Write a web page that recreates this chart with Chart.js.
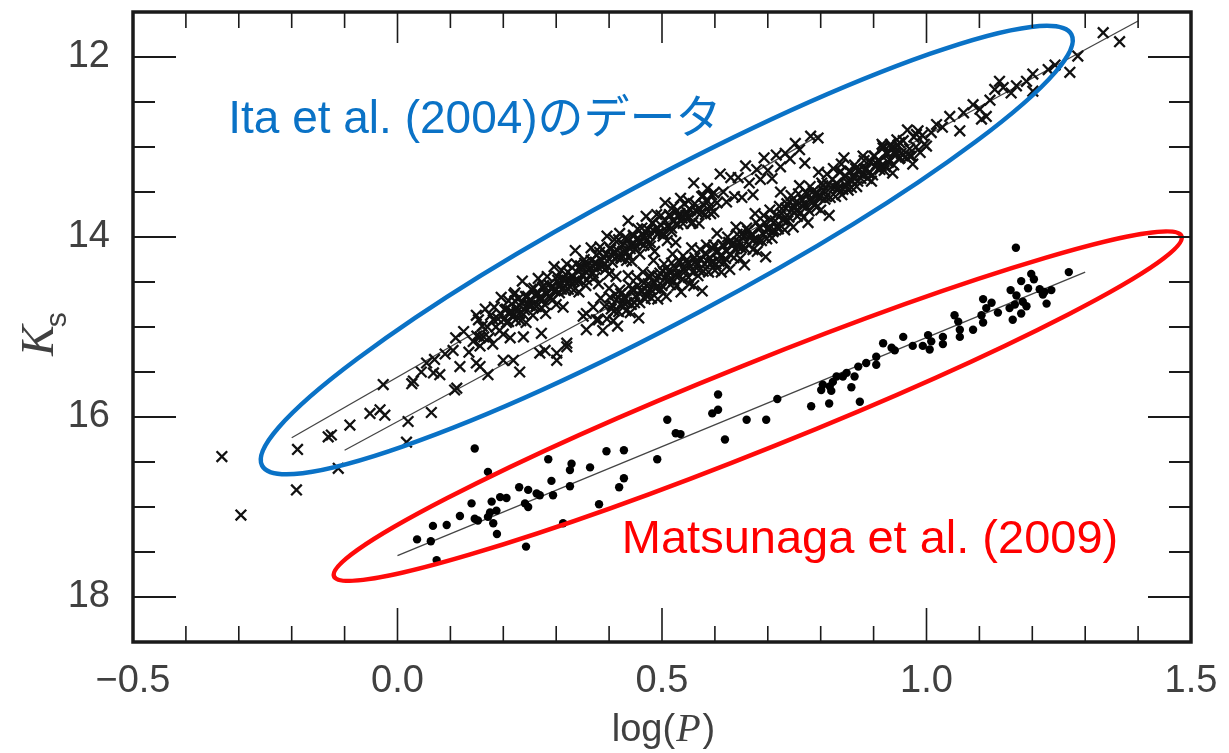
<!DOCTYPE html>
<html>
<head>
<meta charset="utf-8">
<script src="https://cdn.jsdelivr.net/npm/chart.js@4.4.1/dist/chart.umd.min.js"></script>
<style>
  html, body { margin: 0; padding: 0; background: #fff; }
  canvas { display: block; }
</style>
</head>
<body>
<canvas id="plot" width="1229" height="753"></canvas>
<script>
// ticks
const xTicks = [-0.5, 0.0, 0.5, 1.0, 1.5];
const xLabels = ['\u22120.5', '0.0', '0.5', '1.0', '1.5'];
const xMinor = [-0.4, -0.3, -0.2, -0.1, 0.1, 0.2, 0.3, 0.4, 0.6, 0.7, 0.8, 0.9, 1.1, 1.2, 1.3, 1.4];
const yTicks = [12, 14, 16, 18];
const yLabels = ['12', '14', '16', '18'];
const yMinor = [12.5, 13, 13.5, 14.5, 15, 15.5, 16.5, 17, 17.5];

// Ita et al. (2004) - first overtone sequence (crosses)
const itaOvertone = [
  [-0.189,16.36],[-0.131,16.22],[-0.125,16.20],[-0.090,16.09],[-0.052,15.96],[-0.033,15.92],[-0.024,15.98],[-0.027,15.64],
  [0.027,15.63],[0.030,15.60],[0.045,15.50],[0.055,15.40],[0.068,15.51],[0.070,15.36],[0.080,15.53],[0.090,15.30],
  [0.105,15.26],[0.110,15.12],[0.118,15.44],[0.125,15.05],[0.135,15.28],[0.143,15.16],[0.149,14.87],[0.156,15.11],
  [0.181,14.92],[0.194,14.85],[0.222,14.62],
  [0.150,15.10],[0.153,14.92],[0.156,15.21],[0.160,14.99],[0.163,15.11],[0.166,14.80],[0.170,15.00],[0.173,15.12],[0.176,14.87],[0.180,15.19],
  [0.183,14.78],[0.186,15.00],[0.190,14.91],[0.193,15.04],[0.196,14.67],[0.200,15.08],[0.203,14.81],[0.206,14.95],[0.210,14.71],[0.213,15.12],
  [0.216,14.83],[0.220,14.64],[0.223,14.92],[0.226,14.83],[0.230,14.68],[0.233,14.93],[0.236,14.49],[0.240,14.81],[0.243,14.95],[0.246,14.66],
  [0.250,14.76],[0.253,14.58],[0.256,14.87],[0.260,14.65],[0.263,14.77],[0.266,14.46],[0.270,14.67],[0.273,14.79],[0.276,14.54],[0.280,14.85],
  [0.283,14.44],[0.286,14.66],[0.290,14.57],[0.293,14.70],[0.296,14.33],[0.300,14.75],[0.303,14.48],[0.306,14.62],[0.310,14.37],[0.313,14.78],
  [0.316,14.49],[0.320,14.30],[0.323,14.58],[0.326,14.50],[0.330,14.34],[0.333,14.59],[0.336,14.15],[0.340,14.47],[0.343,14.61],[0.346,14.32],
  [0.350,14.43],[0.353,14.25],[0.356,14.54],[0.360,14.31],[0.363,14.43],[0.366,14.12],[0.370,14.33],[0.373,14.45],[0.376,14.20],[0.380,14.52],
  [0.383,14.11],[0.386,14.33],[0.390,14.23],[0.393,14.36],[0.396,13.99],[0.400,14.41],[0.403,14.14],[0.406,14.28],[0.410,14.03],[0.413,14.44],
  [0.416,14.15],[0.420,13.96],[0.423,14.24],[0.426,14.16],[0.430,14.01],[0.433,14.26],[0.436,13.82],[0.440,14.13],[0.443,14.27],[0.446,13.98],
  [0.450,14.09],[0.454,13.91],[0.458,14.19],[0.462,13.97],[0.466,14.09],[0.470,13.77],[0.474,13.98],[0.478,14.10],[0.482,13.84],[0.486,14.16],
  [0.490,13.75],[0.494,13.96],[0.498,13.87],[0.502,13.99],[0.506,13.62],[0.510,14.04],[0.514,13.76],[0.518,13.90],[0.522,13.66],[0.526,14.06],
  [0.530,13.77],[0.535,13.57],[0.540,13.85],[0.545,13.76],[0.550,13.60],[0.555,13.85],[0.560,13.40],[0.565,13.71],[0.570,13.85],[0.575,13.55],
  [0.580,13.65],[0.586,13.46],[0.592,13.74],[0.598,13.51],[0.604,13.62],[0.610,13.30],[0.616,13.50],[0.622,13.61],
  [0.630,13.34],[0.637,13.55],[0.644,13.34],[0.651,13.56],[0.658,13.21],[0.665,13.40],[0.672,13.53],[0.679,13.25],[0.686,13.36],[0.693,13.12],
  [0.700,13.26],[0.708,13.35],[0.716,13.09],[0.724,13.22],[0.733,13.07],[0.742,13.13],[0.752,12.96],[0.760,13.03],[0.770,13.18],[0.781,12.88],
  [0.795,12.90],[0.839,13.19]
];
// dense core of the first overtone band
const itaOvertoneCore = [
  [0.202,14.91],[0.206,14.80],[0.210,14.94],[0.214,14.82],[0.218,14.87],[0.222,14.71],[0.226,14.79],[0.230,14.85],[0.234,14.73],[0.238,14.86],
  [0.242,14.66],[0.246,14.75],[0.250,14.70],[0.254,14.76],[0.258,14.57],[0.262,14.77],[0.266,14.63],[0.270,14.69],[0.274,14.56],[0.278,14.75],
  [0.282,14.64],[0.286,14.53],[0.290,14.67],[0.294,14.55],[0.298,14.60],[0.302,14.44],[0.306,14.53],[0.310,14.58],[0.314,14.46],[0.318,14.59],
  [0.322,14.39],[0.326,14.48],[0.330,14.43],[0.334,14.49],[0.338,14.30],[0.342,14.50],[0.346,14.36],[0.350,14.42],[0.354,14.29],[0.358,14.48],
  [0.362,14.37],[0.366,14.26],[0.370,14.40],[0.374,14.28],[0.378,14.33],[0.382,14.17],[0.386,14.26],[0.390,14.31],[0.394,14.19],[0.398,14.33],
  [0.402,14.12],[0.406,14.21],[0.410,14.16],[0.414,14.22],[0.418,14.03],[0.422,14.23],[0.426,14.09],[0.430,14.15],[0.434,14.02],[0.438,14.21],
  [0.442,14.10],[0.446,13.99],[0.450,14.13],[0.454,14.01],[0.458,14.06],[0.462,13.90],[0.466,13.99],[0.470,14.04],[0.474,13.92],[0.478,14.06],
  [0.482,13.85],[0.486,13.94],[0.490,13.90],[0.494,13.95],[0.498,13.76],[0.502,13.96],[0.506,13.82],[0.510,13.88],[0.514,13.75],[0.518,13.94],
  [0.522,13.83],[0.526,13.72],[0.530,13.86],[0.534,13.74],[0.538,13.79],[0.542,13.63],[0.546,13.72],[0.550,13.77],[0.554,13.70],[0.558,13.84],
  [0.562,13.63],[0.566,13.72],[0.570,13.68],[0.574,13.73],[0.578,13.54],[0.582,13.75],[0.586,13.60],[0.590,13.66],[0.594,13.53],[0.598,13.72]
];

// Ita et al. (2004) - fundamental sequence (crosses)
const itaFundamental = [
  [-0.332,16.44],[-0.296,17.09],[-0.191,16.81],[-0.112,16.57],
  [0.017,16.28],[0.020,16.05],[0.064,15.95],[0.108,15.70],[0.112,15.68],[0.149,15.40],[0.156,15.44],[0.171,15.53],
  [0.200,15.37],[0.219,15.37],[0.231,15.50],[0.238,15.11],[0.269,15.29],[0.272,15.07],[0.279,15.26],[0.301,15.37],
  [0.301,15.29],[0.320,15.18],[0.320,15.22],[0.351,14.88],[0.357,15.03],[0.357,14.85],[0.370,14.78],[0.376,14.92],
  [0.380,14.92],[0.384,14.68],[0.388,15.04],[0.392,14.77],[0.396,14.91],[0.400,14.57],[0.404,14.80],[0.408,14.93],[0.412,14.64],[0.416,14.99],
  [0.420,14.59],[0.424,14.76],[0.428,14.67],[0.432,14.82],[0.436,14.43],[0.440,14.84],[0.444,14.57],[0.448,14.73],[0.452,14.45],[0.456,14.90],
  [0.460,14.60],[0.464,14.39],[0.468,14.69],[0.472,14.60],[0.476,14.43],[0.480,14.68],[0.484,14.26],[0.488,14.57],[0.492,14.69],[0.496,14.40],
  [0.500,14.54],[0.504,14.30],[0.508,14.66],[0.512,14.38],[0.516,14.53],[0.520,14.19],[0.524,14.42],[0.528,14.54],[0.532,14.26],[0.536,14.61],
  [0.540,14.21],[0.544,14.38],[0.548,14.29],[0.552,14.52],[0.556,14.12],[0.560,14.54],[0.564,14.27],[0.568,14.43],[0.572,14.14],[0.576,14.60],
  [0.580,14.30],[0.584,14.09],[0.588,14.39],[0.592,14.30],[0.596,14.13],[0.600,14.37],[0.604,13.96],[0.608,14.27],[0.612,14.39],[0.616,14.09],
  [0.620,14.24],[0.624,14.00],[0.628,14.36],[0.632,14.08],[0.636,14.23],[0.640,13.89],[0.644,14.11],[0.648,14.24],[0.652,13.96],[0.656,14.31],
  [0.660,13.90],[0.664,14.08],[0.668,13.99],[0.672,14.14],[0.676,13.74],[0.680,14.16],[0.684,13.89],[0.688,14.04],[0.692,13.76],[0.696,14.22],
  [0.700,13.92],[0.704,13.70],[0.708,14.01],[0.712,13.92],[0.716,13.75],[0.720,13.91],[0.724,13.50],[0.728,13.81],[0.732,13.92],[0.736,13.63],
  [0.740,13.78],[0.744,13.54],[0.748,13.89],[0.752,13.62],[0.756,13.77],[0.760,13.43],[0.764,13.65],[0.768,13.78],[0.772,13.50],[0.776,13.84],
  [0.780,13.44],[0.784,13.62],[0.788,13.53],[0.792,13.67],[0.796,13.28],[0.800,13.70],[0.804,13.43],[0.808,13.58],[0.812,13.30],[0.816,13.76],
  [0.820,13.45],[0.824,13.24],[0.828,13.55],[0.832,13.46],[0.836,13.28],[0.840,13.53],[0.844,13.12],[0.848,13.43],[0.852,13.48],[0.856,13.27],
  [0.860,13.38],[0.864,13.20],[0.868,13.44],[0.872,13.25],[0.876,13.35],[0.880,13.10],[0.884,13.26],[0.888,13.35],[0.892,13.15],[0.896,13.38],
  [0.900,13.10],[0.904,13.22],[0.908,13.15],[0.912,13.25],[0.916,12.97],[0.920,13.26],[0.924,13.06],[0.928,13.17],[0.932,12.97],[0.936,13.29],
  [0.940,13.07],[0.944,12.92],[0.948,13.13],[0.952,13.07],[0.956,12.93],[0.960,13.11],[0.964,12.81],[0.968,13.02],[0.972,13.10],[0.976,12.89],
  [0.980,13.00],[0.984,12.82],[0.988,13.06],[0.992,12.87],[0.996,12.97],
  [0.918,12.99],[0.940,13.05],[0.949,12.95],[0.968,13.10],[0.974,13.19],[0.981,12.86],
  [1.000,12.99],[1.009,12.84],[1.019,12.75],[1.030,12.78],[1.044,12.66],[1.063,12.82],[1.070,12.62],[1.088,12.53],[1.101,12.58],[1.104,12.69],
  [1.113,12.66],[1.120,12.48],[1.129,12.36],[1.138,12.27],[1.145,12.34],[1.160,12.40],[1.170,12.32],[1.189,12.27],[1.201,12.19],[1.201,12.38],
  [1.230,12.14],[1.243,12.09],[1.271,12.17],[1.286,11.99],[1.334,11.73],[1.365,11.83]
];
// dense core of the fundamental band
const itaFundamentalCore = [
  [0.402,14.67],[0.406,14.76],[0.410,14.82],[0.414,14.70],[0.418,14.83],[0.422,14.63],[0.426,14.72],[0.430,14.68],[0.434,14.73],[0.438,14.54],
  [0.442,14.75],[0.446,14.60],[0.450,14.66],[0.454,14.54],[0.458,14.73],[0.462,14.61],[0.466,14.51],[0.470,14.65],[0.474,14.52],[0.478,14.58],
  [0.482,14.42],[0.486,14.51],[0.490,14.56],[0.494,14.44],[0.498,14.58],[0.502,14.38],[0.506,14.46],[0.510,14.42],[0.514,14.48],[0.518,14.29],
  [0.522,14.49],[0.526,14.35],[0.530,14.41],[0.534,14.28],[0.538,14.47],[0.542,14.36],[0.546,14.26],[0.550,14.45],[0.554,14.33],[0.558,14.39],
  [0.562,14.23],[0.566,14.31],[0.570,14.37],[0.574,14.25],[0.578,14.38],[0.582,14.18],[0.586,14.27],[0.590,14.23],[0.594,14.28],[0.598,14.09],
  [0.602,14.30],[0.606,14.16],[0.610,14.21],[0.614,14.09],[0.618,14.28],[0.622,14.16],[0.626,14.06],[0.630,14.20],[0.634,14.08],[0.638,14.13],
  [0.642,13.97],[0.646,14.06],[0.650,14.12],[0.654,13.99],[0.658,14.13],[0.662,13.93],[0.666,14.01],[0.670,13.97],[0.674,14.03],[0.678,13.84],
  [0.682,14.04],[0.686,13.90],[0.690,13.96],[0.694,13.84],[0.698,14.02],[0.702,13.91],[0.706,13.81],[0.710,13.94],[0.714,13.82],[0.718,13.88],
  [0.722,13.66],[0.726,13.74],[0.730,13.80],[0.734,13.68],[0.738,13.82],[0.742,13.61],[0.746,13.70],[0.750,13.66],[0.754,13.71],[0.758,13.52],
  [0.762,13.73],[0.766,13.59],[0.770,13.64],[0.774,13.52],[0.778,13.71],[0.782,13.60],[0.786,13.49],[0.790,13.63],[0.794,13.51],[0.798,13.56],
  [0.802,13.40],[0.806,13.49],[0.810,13.55],[0.814,13.42],[0.818,13.56],[0.822,13.36],[0.826,13.45],[0.830,13.40],[0.834,13.46],[0.838,13.27],
  [0.842,13.47],[0.846,13.33],[0.850,13.39],[0.854,13.27],[0.858,13.45],[0.862,13.34],[0.866,13.24],[0.870,13.38],[0.874,13.25],[0.878,13.31],
  [0.882,13.15],[0.886,13.24],[0.890,13.29],[0.894,13.17],[0.898,13.31],[0.902,13.10],[0.906,13.19],[0.910,13.15],[0.914,13.21],[0.918,13.01],
  [0.922,13.22],[0.926,13.08],[0.930,13.14],[0.934,13.01],[0.938,13.20],[0.942,13.09],[0.946,12.98],[0.950,13.12]
];

// Matsunaga et al. (2009) (filled dots)
const matsunaga = [
  [0.146,16.35],[0.171,16.61],[0.285,16.47],[0.329,16.52],[0.326,16.59],[0.364,16.56],[0.395,16.38],[0.428,16.37],[0.491,16.47],[0.510,16.03],
  [0.526,16.18],[0.535,16.19],[0.606,15.75],[0.595,15.96],[0.606,15.92],[0.619,16.25],[0.660,16.03],[0.697,16.03],[0.291,16.71],[0.326,16.77],
  [0.294,16.87],[0.428,16.68],[0.419,16.78],[0.381,16.97],[0.313,17.18],[0.230,16.78],[0.247,16.81],[0.263,16.85],[0.269,16.87],[0.241,16.96],
  [0.247,17.00],[0.194,16.89],[0.206,16.90],[0.178,16.94],[0.187,17.04],[0.175,17.06],[0.171,17.11],[0.181,17.18],[0.188,17.30],[0.140,16.96],
  [0.146,17.13],[0.152,17.15],[0.118,17.10],[0.093,17.20],[0.067,17.21],[0.037,17.36],[0.063,17.38],[0.074,17.59],[0.243,17.44],
  [1.169,14.12],[1.269,14.39],[1.198,14.41],[1.203,14.47],[1.179,14.49],[1.159,14.59],[1.192,14.57],[1.214,14.58],[1.223,14.61],[1.236,14.59],
  [1.220,14.64],[1.227,14.74],[1.170,14.65],[1.182,14.72],[1.189,14.77],[1.167,14.75],[1.157,14.79],[1.179,14.85],[1.163,14.92],[1.135,14.84],
  [1.123,14.73],[1.107,14.69],[1.113,14.79],[1.104,14.87],[1.107,14.95],[1.088,15.03],[1.053,14.87],[1.060,14.94],[1.063,15.03],[1.063,15.11],
  [1.031,15.11],[1.031,15.19],[1.003,15.09],[1.009,15.16],[1.006,15.25],[0.993,15.21],[0.974,15.21],[0.956,15.11],[0.940,15.26],[0.918,15.18],
  [0.934,15.23],[0.905,15.33],[0.905,15.42],[0.886,15.40],[0.871,15.44],[0.864,15.55],[0.849,15.51],[0.842,15.55],[0.830,15.55],[0.823,15.61],
  [0.817,15.66],[0.804,15.64],[0.801,15.70],[0.858,15.67],[0.820,15.71],[0.816,15.85],[0.782,15.88],[0.874,15.83],[0.718,15.80]
];

// period-luminosity fits (end points)
const fitOvertone = [[-0.2, 16.23], [0.8, 12.86]];
const fitFundamental = [[-0.1, 16.37], [1.4, 11.6]];
const fitMatsunaga = [[0.0, 17.54], [1.3, 14.39]];

const toXY = arr => arr.map(p => ({ x: p[0], y: p[1] }));

// highlight ellipses: major axis end points in data units, half width in px
const ellipses = [
  { from: [-0.256, 16.54], to: [1.274, 11.75], half: 70, color: '#0a72c6' },
  { from: [-0.120, 17.77], to: [1.482, 13.99], half: 43, color: '#ff0a0a' }
];
const notes = [
  { text: 'Ita et al. (2004)のデータ', at: [-0.320, 12.84], color: '#0a72c6', size: 46 },
  { text: 'Matsunaga et al. (2009)', at: [0.424, 17.51], color: '#ff0000', size: 47 }
];

const SANS = '"Liberation Sans", Arial, "Noto Sans CJK JP", sans-serif';

const decor = {
  id: 'decor',
  afterDatasetsDraw(chart) {
    const ctx = chart.ctx, sx = chart.scales.x, sy = chart.scales.y;
    ctx.save();
    ellipses.forEach(e => {
      const x1 = sx.getPixelForValue(e.from[0]), y1 = sy.getPixelForValue(e.from[1]);
      const x2 = sx.getPixelForValue(e.to[0]), y2 = sy.getPixelForValue(e.to[1]);
      const a = Math.hypot(x2 - x1, y2 - y1) / 2;
      ctx.beginPath();
      ctx.ellipse((x1 + x2) / 2, (y1 + y2) / 2, a, e.half, Math.atan2(y2 - y1, x2 - x1), 0, Math.PI * 2);
      ctx.strokeStyle = e.color;
      ctx.lineWidth = 4.5;
      ctx.stroke();
    });
    notes.forEach(n => {
      ctx.font = n.size + 'px ' + SANS;
      ctx.fillStyle = n.color;
      ctx.textAlign = 'left';
      ctx.textBaseline = 'alphabetic';
      ctx.fillText(n.text, sx.getPixelForValue(n.at[0]), sy.getPixelForValue(n.at[1]));
    });
    ctx.restore();
  },
  afterDraw(chart) {
    const ctx = chart.ctx, ca = chart.chartArea, sx = chart.scales.x, sy = chart.scales.y;
    ctx.save();
    ctx.strokeStyle = '#1a1a1a';
    // inward ticks
    ctx.lineWidth = 2;
    const hTick = (v, len) => {
      const p = sy.getPixelForValue(v);
      ctx.beginPath();
      ctx.moveTo(ca.left, p); ctx.lineTo(ca.left + len, p);
      ctx.moveTo(ca.right, p); ctx.lineTo(ca.right - len, p);
      ctx.stroke();
    };
    yTicks.forEach(v => hTick(v, 43));
    yMinor.forEach(v => hTick(v, 22));
    ctx.lineWidth = 1.6;
    const vTick = (v, lenB, lenT) => {
      const p = sx.getPixelForValue(v);
      ctx.beginPath();
      ctx.moveTo(p, ca.bottom); ctx.lineTo(p, ca.bottom - lenB);
      ctx.moveTo(p, ca.top); ctx.lineTo(p, ca.top + lenT);
      ctx.stroke();
    };
    xTicks.slice(1, -1).forEach(v => vTick(v, 34, 31));
    xMinor.forEach(v => vTick(v, 16, 16));
    // frame
    ctx.lineWidth = 3.5;
    ctx.strokeRect(ca.left, ca.top, ca.right - ca.left, ca.bottom - ca.top);

    // x title: log(P)
    ctx.fillStyle = '#404040';
    ctx.textBaseline = 'alphabetic';
    ctx.textAlign = 'left';
    const fN = '38px ' + SANS, fI = 'italic 40px "Liberation Serif", "Times New Roman", serif';
    ctx.font = fN; const w1 = ctx.measureText('log(').width, w3 = ctx.measureText(')').width;
    ctx.font = fI; const w2 = ctx.measureText('P').width;
    const x0 = (ca.left + ca.right) / 2 - (w1 + w2 + w3) / 2;
    const base = 741;
    ctx.font = fN; ctx.fillText('log(', x0, base);
    ctx.font = fI; ctx.fillText('P', x0 + w1 + 1, base);
    ctx.font = fN; ctx.fillText(')', x0 + w1 + w2 + 3, base);

    // y title: K_s
    ctx.translate(53, 356);
    ctx.rotate(-Math.PI / 2);
    ctx.font = 'italic 46px "Liberation Serif", "Times New Roman", serif';
    ctx.fillText('K', 0, 0);
    const wk = ctx.measureText('K').width;
    ctx.font = '30px ' + SANS;
    ctx.fillText('s', wk - 2, 13);
    ctx.restore();
  }
};

const crossStyle = { pointStyle: 'crossRot', pointRadius: 7.5, borderColor: '#111', borderWidth: 2.3, backgroundColor: '#111' };

const ctx = document.getElementById('plot');
new Chart(ctx, {
  type: 'scatter',
  data: {
    datasets: [
      Object.assign({ data: toXY(itaOvertone) }, crossStyle),
      Object.assign({ data: toXY(itaOvertoneCore) }, crossStyle),
      Object.assign({ data: toXY(itaFundamental) }, crossStyle),
      Object.assign({ data: toXY(itaFundamentalCore) }, crossStyle),
      { data: toXY(matsunaga), pointStyle: 'circle', pointRadius: 4.2, borderWidth: 0, backgroundColor: '#000' },
      { type: 'line', data: toXY(fitOvertone), borderColor: '#444', borderWidth: 1.3, pointRadius: 0 },
      { type: 'line', data: toXY(fitFundamental), borderColor: '#444', borderWidth: 1.3, pointRadius: 0 },
      { type: 'line', data: toXY(fitMatsunaga), borderColor: '#444', borderWidth: 1.3, pointRadius: 0 }
    ]
  },
  options: {
    responsive: false,
    devicePixelRatio: 1,
    animation: false,
    layout: { padding: { top: 12, right: 38, left: 0, bottom: 0 } },
    plugins: { legend: { display: false }, tooltip: { enabled: false } },
    scales: {
      x: {
        type: 'linear', min: -0.5, max: 1.5,
        grid: { display: false, drawTicks: false },
        border: { display: false },
        afterBuildTicks: s => { s.ticks = xTicks.map(v => ({ value: v })); },
        afterFit: s => { s.height = 111; s.paddingLeft = 0; s.paddingRight = 0; },
        ticks: {
          autoSkip: false, maxRotation: 0, padding: 17,
          color: '#404040', font: { family: SANS, size: 38 },
          callback: (v) => xLabels[xTicks.indexOf(v)]
        }
      },
      y: {
        type: 'linear', min: 11.5, max: 18.5, reverse: true,
        grid: { display: false, drawTicks: false },
        border: { display: false },
        afterBuildTicks: s => { s.ticks = yTicks.map(v => ({ value: v })); },
        afterFit: s => { s.width = 133; s.paddingTop = 0; s.paddingBottom = 0; },
        ticks: {
          padding: 23,
          color: '#404040', font: { family: SANS, size: 38 },
          callback: (v) => yLabels[yTicks.indexOf(v)]
        }
      }
    }
  },
  plugins: [decor]
});
</script>
</body>
</html>
